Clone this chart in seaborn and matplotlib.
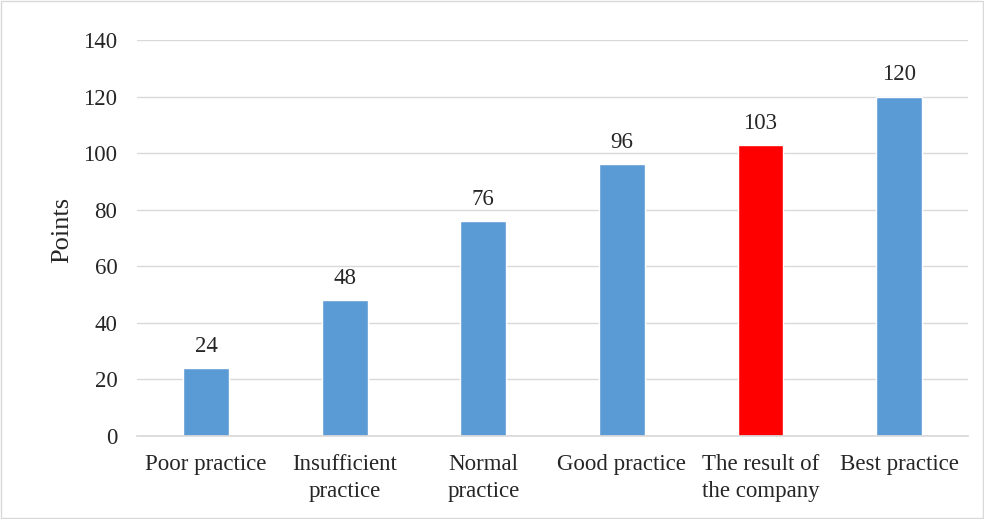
import matplotlib
matplotlib.use("Agg")
import matplotlib.pyplot as plt
import seaborn as sns
import pandas as pd

# Datos del gráfico
categories = ["Poor practice", "Insufficient\npractice", "Normal\npractice",
              "Good practice", "The result of\nthe company", "Best practice"]
points = [24, 48, 76, 96, 103, 120]
bar_colors = ["#5B9BD5", "#5B9BD5", "#5B9BD5", "#5B9BD5", "#FF0000", "#5B9BD5"]
y_ticks = [0, 20, 40, 60, 80, 100, 120, 140]

sns.set_theme(style="white")
plt.rcParams['font.family'] = ['Liberation Serif', 'DejaVu Serif']

df = pd.DataFrame({"category": categories, "points": points})

fig = plt.figure(figsize=(9.84, 5.19), dpi=100)
ax = fig.add_axes([0.139, 0.160, 0.845, 0.763])

sns.barplot(data=df, x="category", y="points", hue="category",
            palette=bar_colors, legend=False, width=0.33, saturation=1,
            errorbar=None, ax=ax)

ax.set_ylim(0, 140)
ax.set_yticks(y_ticks)
ax.yaxis.grid(True, color="#D9D9D9", linewidth=1)
ax.set_axisbelow(True)
for side in ["top", "right", "left"]:
    ax.spines[side].set_visible(False)
ax.spines["bottom"].set_color("#D9D9D9")
ax.tick_params(axis="x", length=0, labelsize=16.5, pad=13)
ax.tick_params(axis="y", length=0, labelsize=16.5, pad=14)
for lbl in ax.get_xticklabels():
    lbl.set_linespacing(1.35)
ax.set_xlabel("")
ax.set_ylabel("Points", fontsize=19, labelpad=10)
ax.yaxis.set_label_coords(-0.076, 0.52)
ax.set_xlim(-0.5, len(categories) - 0.5)

for container in ax.containers:
    ax.bar_label(container, fmt="%d", padding=8, fontsize=16.5)

# Borde de la figura
fig.patches.append(plt.Rectangle((0.001, 0.001), 0.998, 0.997, transform=fig.transFigure,
                                 fill=False, edgecolor="#D9D9D9", linewidth=1))

fig.savefig("out.png", dpi=100)
